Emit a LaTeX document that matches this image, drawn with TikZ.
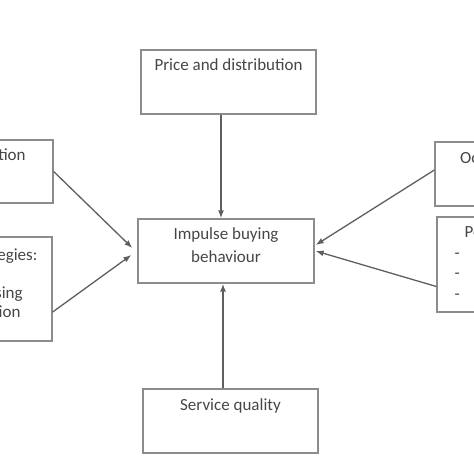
\documentclass[tikz,border=0pt]{standalone}
\usepackage{fontspec}
\setmainfont{Carlito}
\usetikzlibrary{arrows.meta,calc}
\definecolor{boxgray}{RGB}{140,140,140}
\definecolor{arrowgray}{RGB}{95,95,95}
\definecolor{textgray}{RGB}{70,70,70}

\begin{document}
\begin{tikzpicture}[x=1pt, y=-1pt, >={Latex[length=8pt,width=6pt]},
  box/.style={draw=boxgray, line width=1.3pt, minimum width=175pt, minimum height=64pt, inner sep=0pt},
  lbl/.style={text=textgray, font=\fontsize{17}{21}\selectfont, inner sep=0pt, align=center, anchor=base},
  arr/.style={->, line width=1.3pt, draw=arrowgray, fill=arrowgray}]
  \useasboundingbox (0,0) rectangle (474,474);
  \clip (0,0) rectangle (474,474);
  \node[box] (price) at (228.5,82) {};
  \node[box, minimum width=176pt] (impulse) at (226,251) {};
  \node[box] (service) at (230.5,421) {};
  \node[box, minimum height=63pt] (store) at (-34.5,171.5) {};
  \node[box, minimum height=104pt] (marketing) at (-35.5,289) {};
  \node[box] (occasion) at (522.5,174) {};
  \node[box, minimum height=95pt] (personal) at (524.5,264.5) {};

  % multi-line labels sit on their last line
  \node[lbl] (pricetext) at ([yshift=-21pt]price.north) {Price and distribution};
  \node[lbl, font=\fontsize{17}{23}\selectfont] (impulsetext) at ([yshift=-44pt]impulse.north) {Impulse buying\\behaviour};
  \node[lbl] (servicetext) at ([yshift=-22pt]service.north) {Service quality};
  \node[lbl] (storetext) at ([yshift=-21pt]store.north) {Store distribution};
  \node[lbl, font=\fontsize{17}{19}\selectfont] (marketingtext) at ([yshift=-81pt]marketing.north) {Marketing strategies:\\ \mbox{}\\ Store advertising\\ Sales promotion};
  \node[lbl] (occasiontext) at ([yshift=-22pt]occasion.north) {Occasional factors};
  \node[lbl, font=\fontsize{17}{20.5}\selectfont, anchor=base west, align=left] (personaltext) at ([xshift=18pt,yshift=-83pt]personal.north west) {\hspace*{10pt}Personal factors:\\-\\-\\-};

  \draw[arr] ([xshift=-7.5pt]price.south) -- ([xshift=-5pt]impulse.north);
  \draw[arr] ([xshift=-7.5pt]service.north) -- ([xshift=-3pt]impulse.south);
  \draw[arr] (store.east) -- ([xshift=-5pt,yshift=3pt]impulse.west);
  \draw[arr] ([yshift=-23pt]marketing.east) -- ([xshift=-6pt,yshift=-4pt]impulse.west);
  \draw[arr] ([yshift=4pt]occasion.west) -- ([xshift=1pt,yshift=6pt]impulse.east);
  \draw[arr] ([yshift=-22pt]personal.west) -- ([xshift=1pt]impulse.east);
\end{tikzpicture}
\end{document}
